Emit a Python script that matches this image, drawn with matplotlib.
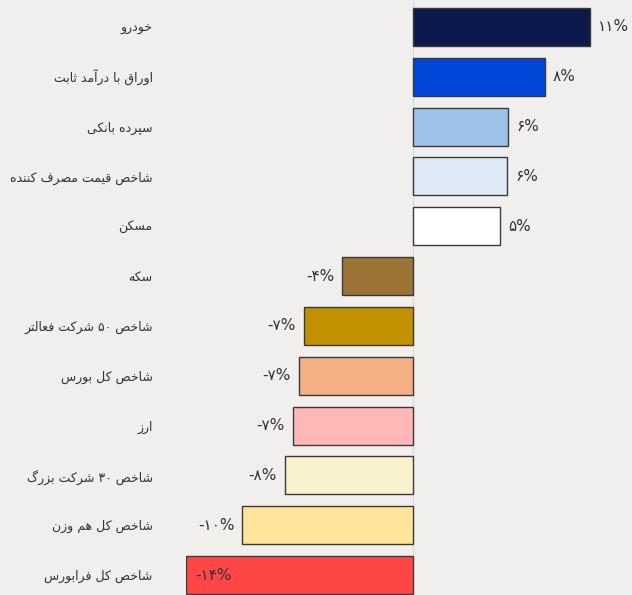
import matplotlib
matplotlib.use("Agg")
import matplotlib.pyplot as plt

categories = [
    "خودرو",
    "اوراق با درآمد ثابت",
    "سپرده بانکی",
    "شاخص قیمت مصرف کننده",
    "مسکن",
    "سکه",
    "شاخص ۵۰ شرکت فعالتر",
    "شاخص کل بورس",
    "ارز",
    "شاخص ۳۰ شرکت بزرگ",
    "شاخص کل هم وزن",
    "شاخص کل فرابورس",
]
values = [11.0, 8.2, 5.9, 5.85, 5.4, -4.4, -6.8, -7.1, -7.45, -7.95, -10.6, -14.1]
value_labels = ["۱۱%", "۸%", "۶%", "۶%", "۵%", "-۴%", "-۷%", "-۷%", "-۷%", "-۸%", "-۱۰%", "-۱۴%"]
colors = ["#0b1a4b", "#0047d8", "#9fc3e8", "#dde9f5", "#ffffff", "#9c7436",
          "#c29000", "#f3b085", "#ffb7b7", "#f8f1cc", "#ffe59b", "#ff4646"]

# ---- minimal Persian shaping (presentation forms) ----
FORMS = {
    'ا': ('\uFE8D', '\uFE8E', None, None),
    'آ': ('\uFE81', '\uFE82', None, None),
    'ب': ('\uFE8F', '\uFE90', '\uFE91', '\uFE92'),
    'پ': ('\uFB56', '\uFB57', '\uFB58', '\uFB59'),
    'ت': ('\uFE95', '\uFE96', '\uFE97', '\uFE98'),
    'ث': ('\uFE99', '\uFE9A', '\uFE9B', '\uFE9C'),
    'ج': ('\uFE9D', '\uFE9E', '\uFE9F', '\uFEA0'),
    'چ': ('\uFB7A', '\uFB7B', '\uFB7C', '\uFB7D'),
    'ح': ('\uFEA1', '\uFEA2', '\uFEA3', '\uFEA4'),
    'خ': ('\uFEA5', '\uFEA6', '\uFEA7', '\uFEA8'),
    'د': ('\uFEA9', '\uFEAA', None, None),
    'ذ': ('\uFEAB', '\uFEAC', None, None),
    'ر': ('\uFEAD', '\uFEAE', None, None),
    'ز': ('\uFEAF', '\uFEB0', None, None),
    'ژ': ('\uFB8A', '\uFB8B', None, None),
    'س': ('\uFEB1', '\uFEB2', '\uFEB3', '\uFEB4'),
    'ش': ('\uFEB5', '\uFEB6', '\uFEB7', '\uFEB8'),
    'ص': ('\uFEB9', '\uFEBA', '\uFEBB', '\uFEBC'),
    'ض': ('\uFEBD', '\uFEBE', '\uFEBF', '\uFEC0'),
    'ط': ('\uFEC1', '\uFEC2', '\uFEC3', '\uFEC4'),
    'ظ': ('\uFEC5', '\uFEC6', '\uFEC7', '\uFEC8'),
    'ع': ('\uFEC9', '\uFECA', '\uFECB', '\uFECC'),
    'غ': ('\uFECD', '\uFECE', '\uFECF', '\uFED0'),
    'ف': ('\uFED1', '\uFED2', '\uFED3', '\uFED4'),
    'ق': ('\uFED5', '\uFED6', '\uFED7', '\uFED8'),
    'ک': ('\uFB8E', '\uFB8F', '\uFB90', '\uFB91'),
    'گ': ('\uFB92', '\uFB93', '\uFB94', '\uFB95'),
    'ل': ('\uFEDD', '\uFEDE', '\uFEDF', '\uFEE0'),
    'م': ('\uFEE1', '\uFEE2', '\uFEE3', '\uFEE4'),
    'ن': ('\uFEE5', '\uFEE6', '\uFEE7', '\uFEE8'),
    'ه': ('\uFEE9', '\uFEEA', '\uFEEB', '\uFEEC'),
    'و': ('\uFEED', '\uFEEE', None, None),
    'ی': ('\uFBFC', '\uFBFD', '\uFBFE', '\uFBFF'),
}


def dual(c):
    return c in FORMS and FORMS[c][2] is not None


def shape(text):
    out = []
    n = len(text)
    for i, c in enumerate(text):
        if c not in FORMS:
            out.append(c)
            continue
        prev = text[i - 1] if i > 0 else ''
        nxt = text[i + 1] if i + 1 < n else ''
        join_prev = dual(prev)
        join_next = dual(c) and nxt in FORMS
        iso, fin, ini, med = FORMS[c]
        if join_prev and join_next:
            out.append(med)
        elif join_prev:
            out.append(fin)
        elif join_next:
            out.append(ini)
        else:
            out.append(iso)
    s = ''.join(out)[::-1]
    # restore LTR order of digit runs
    res, run = [], []
    for ch in s:
        if '\u06F0' <= ch <= '\u06F9':
            run.append(ch)
        else:
            if run:
                res.extend(run[::-1]); run = []
            res.append(ch)
    if run:
        res.extend(run[::-1])
    return ''.join(res)


BG = "#f0efed"
plt.rcParams['font.family'] = ['DejaVu Sans']
fig = plt.figure(figsize=(6.32, 5.95), dpi=100, facecolor=BG)
W, H = 632, 595
left_px, right_px = 186, 632
ax = fig.add_axes([left_px / W, 0, (right_px - left_px) / W, 1])
ax.set_facecolor(BG)

scale = 16.1  # px per unit
ax.set_xlim(-(413 - left_px) / scale, (right_px - 413) / scale)
ypos = list(range(len(categories)))
ax.set_ylim(11.40, -0.54)

ax.axvline(0, color="#dcdcdc", lw=1, zorder=0)
ax.barh(ypos, values, height=0.76, color=colors, edgecolor="#3a3a3a", linewidth=1.0, zorder=2)

ax.set_yticks(ypos)
ax.set_yticklabels([shape(c) for c in categories], fontsize=9, color="#333333")
ax.tick_params(axis='y', length=0, pad=24)
ax.set_xticks([])
for s in ax.spines.values():
    s.set_visible(False)

gap = 8 / scale
for y, v, lab in zip(ypos, values, value_labels):
    if v >= 0:
        ax.text(v + gap, y, lab, ha='left', va='center', fontsize=11, color="#333333")
    elif v < -13:
        ax.text(v + 0.55, y, lab, ha='left', va='center', fontsize=11, color="#333333")
    else:
        ax.text(v - gap, y, lab, ha='right', va='center', fontsize=11, color="#333333")

fig.savefig("out.png", dpi=100, facecolor=BG)
